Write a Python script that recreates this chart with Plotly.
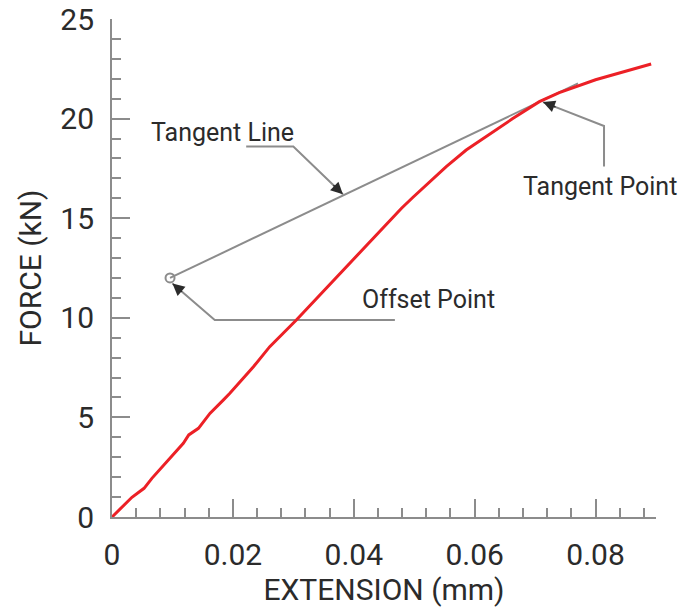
import plotly.graph_objects as go

# Force-extension curve
extension = [0, 0.0033, 0.0053, 0.0066, 0.0118, 0.0127, 0.0143, 0.0162, 0.0184, 0.0195,
             0.0234, 0.0261, 0.0305, 0.0344, 0.0382, 0.0421, 0.0479, 0.0498, 0.0531,
             0.0553, 0.0586, 0.0630, 0.0663, 0.0707, 0.0740, 0.0800, 0.0850, 0.0892]
force = [0, 0.99, 1.44, 1.94, 3.70, 4.12, 4.45, 5.20, 5.87, 6.21,
         7.54, 8.55, 9.89, 11.15, 12.37, 13.62, 15.50, 16.05, 17.00,
         17.59, 18.42, 19.34, 20.00, 20.85, 21.30, 21.95, 22.40, 22.74]

x_tickvals = [0, 0.02, 0.04, 0.06, 0.08]
x_ticktext = ["0", "0.02", "0.04", "0.06", "0.08"]
y_tickvals = [0, 5, 10, 15, 20, 25]
y_ticktext = ["0", "5", "10", "15", "20", "25"]

# Tangent line and offset point
tangent_x = [0.0096, 0.0771]
tangent_y = [12.0, 21.77]
offset_x = [0.0096]
offset_y = [12.0]

# Leader lines (polyline points, last point = arrow tip)
lead_tl_x = [0.0222, 0.0300, 0.0382]
lead_tl_y = [18.6, 18.6, 16.2]
lead_op_x = [0.0468, 0.0170, 0.0100]
lead_op_y = [9.89, 9.89, 11.72]
lead_tp_x = [0.0814, 0.0814, 0.0713]
lead_tp_y = [17.59, 19.63, 20.83]

labels = ["Tangent Line", "Offset Point", "Tangent Point"]
label_x = [0.0061, 0.0410, 0.0677]
label_y = [19.28, 10.91, 16.58]

GRAY = "#8c8c8c"
DARK = "#2b2b2b"
RED = "rgb(236,32,38)"
FONT = "Roboto"

fig = go.Figure()

leaders = [(lead_tl_x, lead_tl_y, 0.22), (lead_op_x, lead_op_y, 0.26), (lead_tp_x, lead_tp_y, 0.23)]

fig.add_trace(go.Scatter(x=tangent_x, y=tangent_y, mode="lines",
                         line=dict(color=GRAY, width=2), hoverinfo="skip"))
for lx, ly, _ in leaders:
    fig.add_trace(go.Scatter(x=lx, y=ly, mode="lines",
                             line=dict(color=GRAY, width=2), hoverinfo="skip"))
fig.add_trace(go.Scatter(x=extension, y=force, mode="lines",
                         line=dict(color=RED, width=3), hoverinfo="skip"))
fig.add_trace(go.Scatter(x=offset_x, y=offset_y, mode="markers",
                         marker=dict(symbol="circle-open", size=9, color=GRAY,
                                     line=dict(width=2, color=GRAY)),
                         hoverinfo="skip"))

# arrowheads at the leader tips (short dark arrows along the last segment)
for lx, ly, f in leaders:
    tx, ty = lx[-1], ly[-1]
    fig.add_annotation(x=tx, y=ty, ax=tx + f * (lx[-2] - tx), ay=ty + f * (ly[-2] - ty),
                       xref="x", yref="y", axref="x", ayref="y", text="", showarrow=True,
                       arrowhead=2, arrowsize=1.6, arrowwidth=1.5, arrowcolor=DARK,
                       standoff=0)

for t, x, y in zip(labels, label_x, label_y):
    fig.add_annotation(x=x, y=y, xref="x", yref="y", text=t, showarrow=False,
                       xanchor="left", yanchor="middle",
                       font=dict(family=FONT, size=25, color=DARK))

axis_common = dict(
    showgrid=False, zeroline=False, showline=True, linecolor=GRAY, linewidth=2,
    ticks="inside", ticklen=18, tickwidth=2, tickcolor=GRAY, automargin=False,
    tickfont=dict(family=FONT, size=30, color=DARK), tickangle=0, tickmode="array",
)

fig.update_xaxes(range=[0, 0.09], tickvals=x_tickvals, ticktext=x_ticktext,
                 minor=dict(ticks="inside", ticklen=9, tickwidth=2, tickcolor=GRAY,
                            dtick=0.004, tick0=0),
                 title=dict(text="EXTENSION (mm)", font=dict(family=FONT, size=30, color=DARK),
                            standoff=4),
                 ticklabelstandoff=10,
                 **axis_common)
fig.update_yaxes(range=[0, 25], tickvals=y_tickvals, ticktext=y_ticktext,
                 minor=dict(ticks="inside", ticklen=9, tickwidth=2, tickcolor=GRAY,
                            dtick=1, tick0=0),
                 title=dict(text="FORCE (kN)", font=dict(family=FONT, size=30, color=DARK),
                            standoff=10),
                 ticklabelstandoff=10,
                 **axis_common)

fig.update_layout(width=684, height=608, showlegend=False,
                  paper_bgcolor="white", plot_bgcolor="white",
                  margin=dict(l=112, r=27.5, t=19, b=91))

fig.write_html("out.html", config={"displayModeBar": False},
               post_script="document.body.style.margin='0px';")
